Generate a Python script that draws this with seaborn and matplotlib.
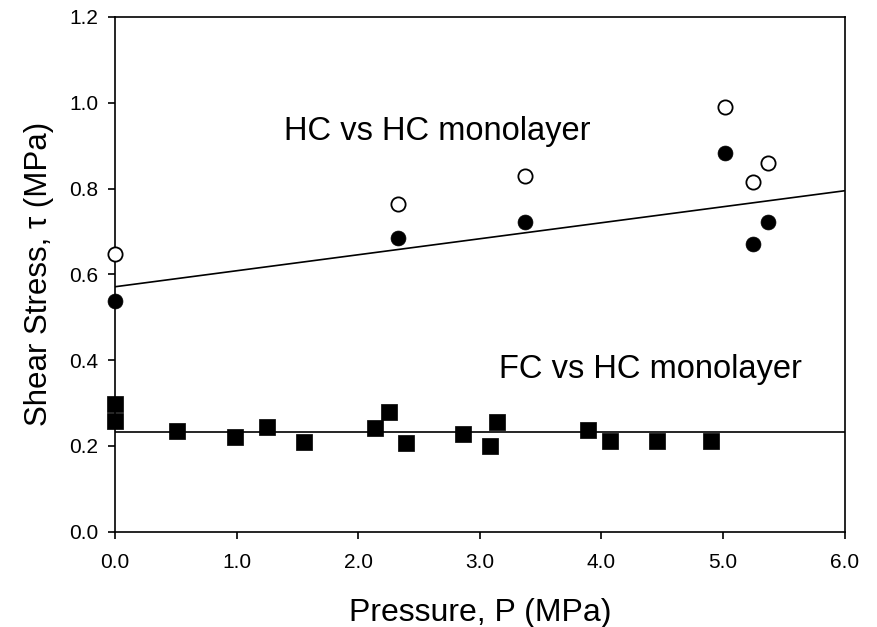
import matplotlib
matplotlib.use("Agg")
import matplotlib.pyplot as plt
import numpy as np
import pandas as pd
import seaborn as sns

# FC vs HC monolayer (squares)
fc_pressure = [0.0, 0.0, 0.51, 0.99, 1.25, 1.55, 2.14, 2.25, 2.39, 2.86, 3.08, 3.14, 3.89, 4.07, 4.46, 4.90]
fc_stress = [0.297, 0.258, 0.235, 0.221, 0.245, 0.208, 0.242, 0.278, 0.207, 0.227, 0.200, 0.255, 0.237, 0.211, 0.211, 0.211]

# HC vs HC monolayer (filled and open circles)
hc_pressure = [0.0, 2.33, 3.37, 5.02, 5.25, 5.37]
hc_stress_filled = [0.538, 0.685, 0.721, 0.882, 0.671, 0.723]
hc_stress_open = [0.647, 0.763, 0.830, 0.991, 0.815, 0.859]

# Linear fits: tau = intercept + slope * P
hc_fit = (0.571, 0.0373)
fc_fit = (0.233, 0.0)

x_ticks = [0.0, 1.0, 2.0, 3.0, 4.0, 5.0, 6.0]
y_ticks = [0.0, 0.2, 0.4, 0.6, 0.8, 1.0, 1.2]

sns.set_style("ticks")
plt.rcParams["font.family"] = ["Liberation Sans", "DejaVu Sans"]
plt.rcParams["text.color"] = "black"
plt.rcParams["axes.labelcolor"] = "black"

fig = plt.figure(figsize=(8.78, 6.27), dpi=100)
ax = fig.add_axes([0.131, 0.152, 0.831, 0.821])

fc = pd.DataFrame({"P": fc_pressure, "tau": fc_stress})
hc_f = pd.DataFrame({"P": hc_pressure, "tau": hc_stress_filled})
hc_o = pd.DataFrame({"P": hc_pressure, "tau": hc_stress_open})

# Fit lines across the full pressure range
p_line = np.array([0.0, 6.0])
for b0, b1 in (hc_fit, fc_fit):
    sns.lineplot(x=p_line, y=b0 + b1 * p_line, ax=ax, color="black", lw=1.2, zorder=2)

sns.scatterplot(data=fc, x="P", y="tau", ax=ax, marker="s", s=135, color="black",
                edgecolor="black", linewidth=0.5, zorder=3, clip_on=False)
sns.scatterplot(data=hc_f, x="P", y="tau", ax=ax, marker="o", s=115, color="black",
                edgecolor="black", linewidth=0.5, zorder=3, clip_on=False)
sns.scatterplot(data=hc_o, x="P", y="tau", ax=ax, marker="o", s=105, facecolor="white",
                edgecolor="black", linewidth=1.3, zorder=3, clip_on=False)

ax.set_xlim(0, 6)
ax.set_ylim(0, 1.2)
ax.set_xticks(x_ticks)
ax.set_yticks(y_ticks)
ax.set_xticklabels([f"{v:.1f}" for v in x_ticks])
ax.set_yticklabels([f"{v:.1f}" for v in y_ticks])
ax.tick_params(direction="out", length=5, width=1.2, labelsize=15, colors="black", pad=7)
ax.tick_params(axis="x", pad=10)
for side in ("top", "right", "left", "bottom"):
    ax.spines[side].set_visible(True)
    ax.spines[side].set_linewidth(1.2)
    ax.spines[side].set_color("black")

ax.set_xlabel("Pressure, P (MPa)", fontsize=23, labelpad=19)
ax.set_ylabel("Shear Stress, τ (MPa)", fontsize=22.5, labelpad=11)

ax.text(2.65, 0.934, "HC vs HC monolayer", fontsize=23.5, ha="center", va="center")
ax.text(4.40, 0.378, "FC vs HC monolayer", fontsize=23.5, ha="center", va="center")

fig.savefig("out.png", dpi=100, facecolor="white")
